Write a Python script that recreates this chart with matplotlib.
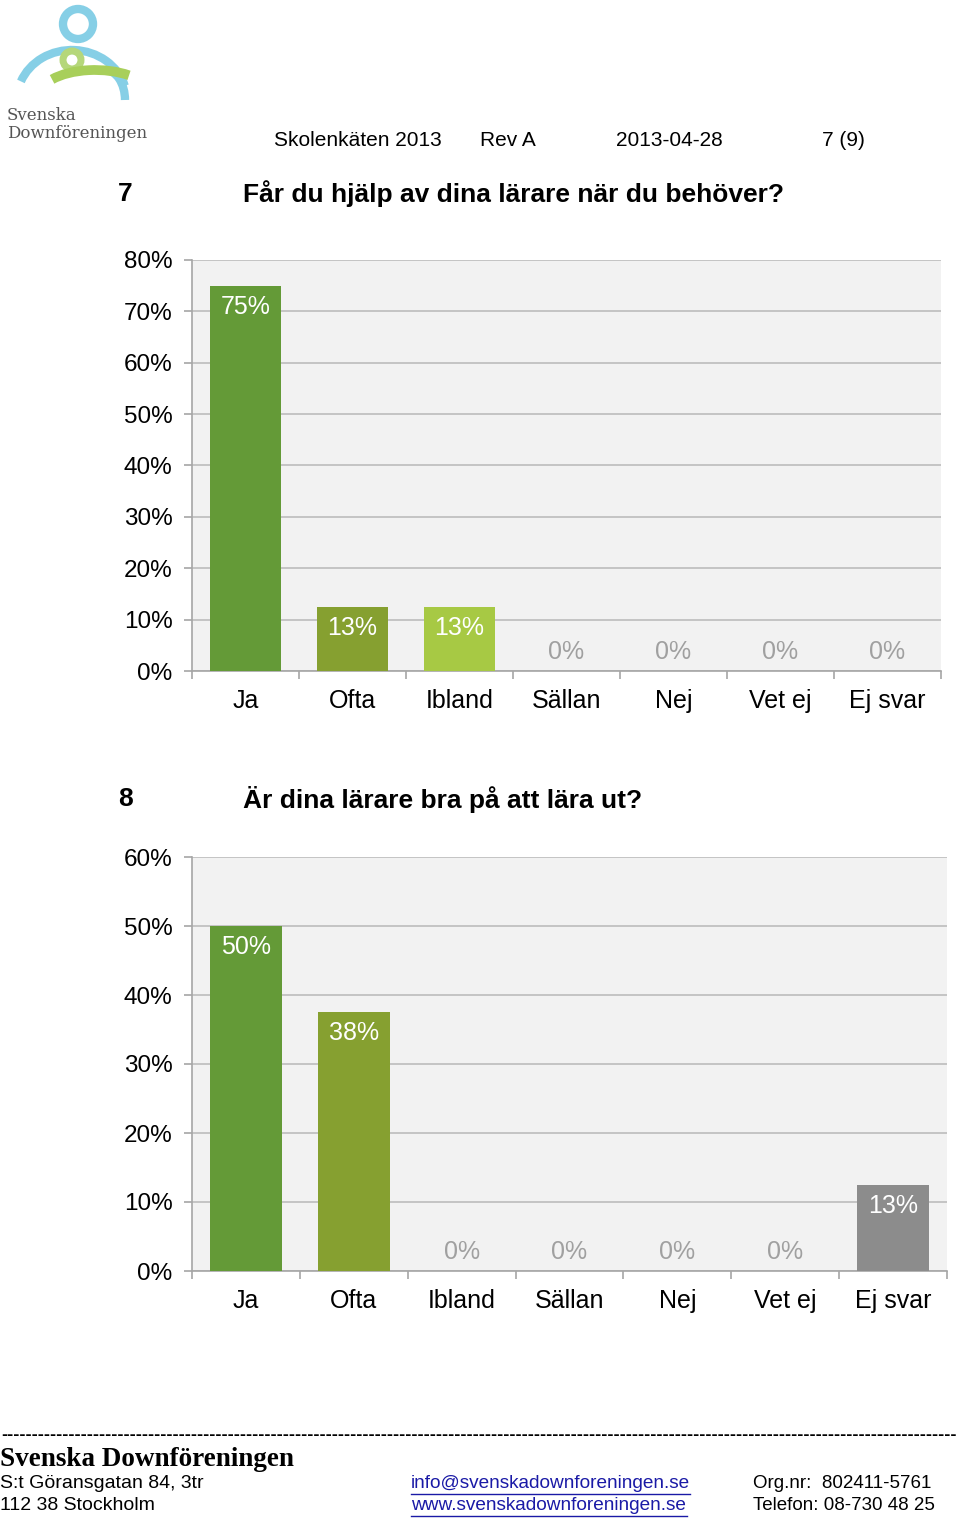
import numpy as np
import matplotlib
matplotlib.use("Agg")
import matplotlib.pyplot as plt
from matplotlib.patches import Arc, Circle

plt.rcParams['font.family'] = ['Liberation Sans', 'DejaVu Sans']

categories = ['Ja', 'Ofta', 'Ibland', 'Sällan', 'Nej', 'Vet ej', 'Ej svar']

q7_values = [75, 12.5, 12.5, 0, 0, 0, 0]
q7_labels = ['75%', '13%', '13%', '0%', '0%', '0%', '0%']
q7_colors = ['#649a37', '#86a030', '#a7c944', '#a7c944', '#a7c944', '#a7c944', '#a7c944']

q8_values = [50, 37.5, 0, 0, 0, 0, 12.5]
q8_labels = ['50%', '38%', '0%', '0%', '0%', '0%', '13%']
q8_colors = ['#649a37', '#86a030', '#a7c944', '#a7c944', '#a7c944', '#a7c944', '#8c8c8c']

W, H = 960, 1519
fig = plt.figure(figsize=(W / 100, H / 100), dpi=100)


def fx(px):
    return px / W


def fy(py):
    return 1 - py / H


def bar_chart(rect, values, labels, colors, ymax, step):
    ax = fig.add_axes(rect)
    x = np.arange(len(categories))
    ax.set_facecolor('#f2f2f2')
    ax.bar(x, values, width=0.67, color=colors, zorder=3)
    ax.set_xlim(-0.5, len(categories) - 0.5)
    ax.set_ylim(0, ymax)
    ticks = np.arange(0, ymax + 1, step)
    ax.set_yticks(ticks)
    ax.set_yticklabels([f'{int(v)}%' for v in ticks])
    ax.yaxis.grid(True, color='#bdbdbd', linewidth=1.2, zorder=1)
    ax.set_xticks(x)
    ax.set_xticklabels(categories)
    ax.set_xticks(np.arange(-0.5, len(categories)), minor=True)
    ax.tick_params(axis='x', which='major', length=0, pad=13, labelsize=18)
    ax.tick_params(axis='x', which='minor', length=6, color='#a6a6a6', width=1.2)
    ax.tick_params(axis='y', length=6, color='#a6a6a6', width=1.2, pad=8, labelsize=17.5)
    for s in ['top', 'right']:
        ax.spines[s].set_visible(False)
    for s in ['left', 'bottom']:
        ax.spines[s].set_color('#a6a6a6')
        ax.spines[s].set_linewidth(1.2)
    for xi, v, lab in zip(x, values, labels):
        if v > 0:
            ax.annotate(lab, (xi, v), xytext=(0, -15), textcoords='offset points',
                        ha='center', va='center', color='white', fontsize=18, zorder=4)
        else:
            ax.annotate(lab, (xi, 0), xytext=(0, 14), textcoords='offset points',
                        ha='center', va='center', color='#a0a0a0', fontsize=18, zorder=4)
    return ax


# chart 1
bar_chart([fx(192), 1 - 671 / H, fx(941) - fx(192), 411 / H],
          q7_values, q7_labels, q7_colors, 80, 10)
# chart 2
bar_chart([fx(192), 1 - 1271 / H, fx(947) - fx(192), 414 / H],
          q8_values, q8_labels, q8_colors, 60, 10)

# header
fig.text(fx(274), fy(140), 'Skolenkäten 2013', fontsize=15, va='center')
fig.text(fx(480), fy(140), 'Rev A', fontsize=15, va='center')
fig.text(fx(616), fy(140), '2013-04-28', fontsize=15, va='center')
fig.text(fx(822), fy(140), '7 (9)', fontsize=15, va='center')

fig.text(fx(118), fy(194), '7', fontsize=19, fontweight='bold', va='center')
fig.text(fx(243), fy(194), 'Får du hjälp av dina lärare när du behöver?', fontsize=19,
         fontweight='bold', va='center')
fig.text(fx(118), fy(799), '8', fontsize=19, fontweight='bold', va='center')
fig.text(fx(243), fy(799), 'Är dina lärare bra på att lära ut?', fontsize=19,
         fontweight='bold', va='center')

# logo (rough)
lax = fig.add_axes([0, fy(145), fx(150), 145 / H])
lax.set_xlim(0, 150)
lax.set_ylim(145, 0)
lax.axis('off')
lax.add_patch(Circle((78, 24), 15, fill=False, lw=6, color='#86cfe6'))
lax.add_patch(Arc((72, 100), 110, 100, theta1=200, theta2=345, lw=6, color='#86cfe6'))
lax.add_patch(Arc((105, 100), 40, 60, theta1=270, theta2=360, lw=6, color='#86cfe6'))
lax.add_patch(Circle((72, 60), 9, fill=False, lw=5, color='#b5d77a'))
lax.add_patch(Arc((95, 95), 110, 50, theta1=200, theta2=330, lw=7, color='#a8cf5a'))
lax.text(7, 116, 'Svenska', fontsize=12, color='#555555', family='DejaVu Serif', va='center')
lax.text(7, 133, 'Downföreningen', fontsize=12, color='#555555', family='DejaVu Serif',
         va='center')

# footer
fig.text(fx(479), fy(1435), '-' * 156, fontsize=13, fontweight='bold', va='center',
         ha='center')
fig.text(0, fy(1460), 'Svenska Downföreningen', fontsize=19.5, fontweight='bold',
         family='Liberation Serif', va='center')
fig.text(0, fy(1483), 'S:t Göransgatan 84, 3tr', fontsize=14, va='center')
fig.text(0, fy(1505), '112 38 Stockholm', fontsize=14, va='center')
fig.text(fx(411), fy(1483), 'info@svenskadownforeningen.se', fontsize=13.7, va='center',
         color='#1a1aa6')
fig.text(fx(411), fy(1505), 'www.svenskadownforeningen.se', fontsize=13.7, va='center',
         color='#1a1aa6')
fig.add_artist(plt.Line2D([fx(411), fx(690)], [fy(1494), fy(1494)], color='#1a1aa6', lw=1))
fig.add_artist(plt.Line2D([fx(411), fx(687)], [fy(1516), fy(1516)], color='#1a1aa6', lw=1))
fig.text(fx(753), fy(1483), 'Org.nr:  802411-5761', fontsize=13.5, va='center')
fig.text(fx(753), fy(1505), 'Telefon: 08-730 48 25', fontsize=13.5, va='center')

fig.savefig('out.png', dpi=100, facecolor='white')
